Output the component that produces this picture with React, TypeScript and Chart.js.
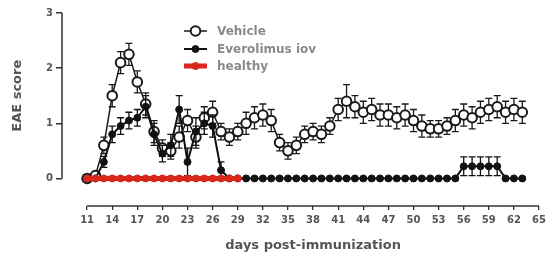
import { useEffect, useRef } from "react";
import { Chart, registerables } from "chart.js";

Chart.register(...registerables);

// Days post-immunization (x categories)
const days = [
  11, 12, 13, 14, 15, 16, 17, 18, 19, 20,
  21, 22, 23, 24, 25, 26, 27, 28, 29, 30,
  31, 32, 33, 34, 35, 36, 37, 38, 39, 40,
  41, 42, 43, 44, 45, 46, 47, 48, 49, 50,
  51, 52, 53, 54, 55, 56, 57, 58, 59, 60,
  61, 62, 63,
];

const vehicle = [
  0, 0.05, 0.6, 1.5, 2.1, 2.25, 1.75, 1.35, 0.85, 0.55,
  0.5, 0.75, 1.05, 0.75, 1.1, 1.2, 0.85, 0.75, 0.85, 1.0,
  1.1, 1.15, 1.05, 0.65, 0.5, 0.6, 0.8, 0.85, 0.8, 0.95,
  1.25, 1.4, 1.3, 1.2, 1.25, 1.15, 1.15, 1.1, 1.15, 1.05,
  0.95, 0.9, 0.9, 0.95, 1.05, 1.15, 1.1, 1.2, 1.25, 1.3,
  1.2, 1.25, 1.2,
];
const vehicleErr = [
  0, 0.05, 0.15, 0.2, 0.2, 0.2, 0.2, 0.2, 0.2, 0.15,
  0.15, 0.2, 0.2, 0.2, 0.2, 0.2, 0.15, 0.15, 0.15, 0.2,
  0.2, 0.2, 0.2, 0.15, 0.15, 0.15, 0.15, 0.15, 0.15, 0.15,
  0.2, 0.3, 0.2, 0.2, 0.2, 0.2, 0.2, 0.2, 0.2, 0.2,
  0.2, 0.15, 0.15, 0.15, 0.2, 0.2, 0.2, 0.2, 0.2, 0.2,
  0.2, 0.2, 0.2,
];

const everolimus = [
  0, 0, 0.3, 0.8, 0.95, 1.05, 1.1, 1.3, 0.8, 0.45,
  0.6, 1.25, 0.3, 0.85, 1.0, 0.95, 0.15, 0, 0, 0,
  0, 0, 0, 0, 0, 0, 0, 0, 0, 0,
  0, 0, 0, 0, 0, 0, 0, 0, 0, 0,
  0, 0, 0, 0, 0, 0.22, 0.22, 0.22, 0.22, 0.22,
  0, 0, 0,
];
const everolimusErr = [
  0, 0, 0.1, 0.15, 0.15, 0.15, 0.15, 0.2, 0.2, 0.15,
  0.2, 0.25, 0.25, 0.25, 0.2, 0.2, 0.15, 0, 0, 0,
  0, 0, 0, 0, 0, 0, 0, 0, 0, 0,
  0, 0, 0, 0, 0, 0, 0, 0, 0, 0,
  0, 0, 0, 0, 0, 0.17, 0.17, 0.17, 0.17, 0.17,
  0, 0, 0,
];

const healthyDays = [11, 12, 13, 14, 15, 16, 17, 18, 19, 20, 21, 22, 23, 24, 25, 26, 27, 28, 29];
const healthy = [0, 0, 0, 0, 0, 0, 0, 0, 0, 0, 0, 0, 0, 0, 0, 0, 0, 0, 0];

const xTicks = [11, 14, 17, 20, 23, 26, 29, 32, 35, 38, 41, 44, 47, 50, 53, 56, 59, 62, 65];
const yTicks = [0, 1, 2, 3];

const seriesLabels = ["Vehicle", "Everolimus iov", "healthy"];
const xTitle = "days post-immunization";
const yTitle = "EAE score";

const FONT = '"DejaVu Sans", sans-serif';
const RED = "#d8271b";

const errorBars = {
  id: "errorBars",
  beforeDatasetDraw(chart: any, args: any) {
    const ds = chart.data.datasets[args.index] as any;
    if (!ds.errors) return;
    const { ctx, scales } = chart;
    const x = scales.x;
    const y = scales.y;
    ctx.save();
    ctx.strokeStyle = ds.borderColor;
    ctx.lineWidth = 1.3;
    ds.data.forEach((p: any, i: number) => {
      const e = ds.errors[i];
      if (!e) return;
      const px = x.getPixelForValue(p.x);
      const top = y.getPixelForValue(p.y + e);
      const bot = y.getPixelForValue(p.y - e);
      ctx.beginPath();
      ctx.moveTo(px, top);
      ctx.lineTo(px, bot);
      ctx.moveTo(px - 3.5, top);
      ctx.lineTo(px + 3.5, top);
      ctx.moveTo(px - 3.5, bot);
      ctx.lineTo(px + 3.5, bot);
      ctx.stroke();
    });
    ctx.restore();
  },
};

const prismAxes = {
  id: "prismAxes",
  afterDraw(chart: any) {
    const { ctx, chartArea, scales } = chart;
    const x = scales.x;
    const y = scales.y;
    const yA = y.getPixelForValue(yTicks[0]);
    const yB = y.getPixelForValue(yTicks[yTicks.length - 1]);
    const xA = x.getPixelForValue(xTicks[0]);
    const xB = x.getPixelForValue(xTicks[xTicks.length - 1]);
    ctx.save();
    ctx.strokeStyle = "#333";
    ctx.lineWidth = 1.5;
    ctx.beginPath();
    ctx.moveTo(chartArea.left, yA);
    ctx.lineTo(chartArea.left, yB);
    ctx.moveTo(xA, chartArea.bottom);
    ctx.lineTo(xB, chartArea.bottom);
    ctx.stroke();

    ctx.fillStyle = "#555";
    ctx.font = `bold 13px ${FONT}`;
    ctx.textAlign = "center";
    ctx.textBaseline = "middle";
    ctx.fillText(xTitle, (xA + xB) / 2, 246);
    ctx.translate(18, (yA + yB) / 2);
    ctx.rotate(-Math.PI / 2);
    ctx.fillText(yTitle, 0, 0);
    ctx.restore();
  },
};

const customLegend = {
  id: "customLegend",
  afterDraw(chart: any) {
    const { ctx } = chart;
    const rows = [31, 49, 66];
    const x0 = 184;
    const x1 = 207;
    ctx.save();
    chart.data.datasets.forEach((ds: any, i: number) => {
      const yy = rows[i];
      ctx.strokeStyle = ds.borderColor;
      ctx.lineWidth = ds.borderWidth;
      ctx.beginPath();
      ctx.moveTo(x0, yy);
      ctx.lineTo(x1, yy);
      ctx.stroke();
      ctx.beginPath();
      ctx.arc((x0 + x1) / 2, yy, ds.pointRadius, 0, Math.PI * 2);
      ctx.fillStyle = ds.pointBackgroundColor;
      ctx.fill();
      ctx.lineWidth = ds.pointBorderWidth;
      ctx.strokeStyle = ds.pointBorderColor;
      ctx.stroke();
      ctx.fillStyle = "#8a8a8a";
      ctx.font = `bold 12px ${FONT}`;
      ctx.textAlign = "left";
      ctx.textBaseline = "middle";
      ctx.fillText(ds.label, 217, yy + 1);
    });
    ctx.restore();
  },
};

export default function App() {
  const ref = useRef<HTMLCanvasElement>(null);
  useEffect(() => {
    document.body.style.margin = "0";
    const canvas = ref.current;
    if (!canvas) return;
    const chart = new Chart(canvas, {
      type: "line",
      data: {
        datasets: [
          {
            label: seriesLabels[0],
            data: days.map((d, i) => ({ x: d, y: vehicle[i] })),
            errors: vehicleErr,
            borderColor: "#1a1a1a",
            borderWidth: 1.5,
            pointRadius: 4.8,
            pointBorderWidth: 2,
            pointBackgroundColor: "#ffffff",
            pointBorderColor: "#1a1a1a",
            order: 2,
          } as any,
          {
            label: seriesLabels[1],
            data: days.map((d, i) => ({ x: d, y: everolimus[i] })),
            errors: everolimusErr,
            borderColor: "#111111",
            borderWidth: 2,
            pointRadius: 3.5,
            pointBorderWidth: 1,
            pointBackgroundColor: "#111111",
            pointBorderColor: "#111111",
            order: 1,
          } as any,
          {
            label: seriesLabels[2],
            data: healthyDays.map((d, i) => ({ x: d, y: healthy[i] })),
            borderColor: RED,
            borderWidth: 5,
            pointRadius: 3.5,
            pointBorderWidth: 1,
            pointBackgroundColor: RED,
            pointBorderColor: RED,
            order: 0,
          } as any,
        ],
      },
      options: {
        responsive: false,
        animation: false,
        devicePixelRatio: 1,
        layout: { padding: { top: 13, right: 7, left: 0, bottom: 0 } },
        plugins: {
          legend: { display: false },
          tooltip: { enabled: false },
        },
        scales: {
          x: {
            type: "linear",
            min: 8,
            max: 65,
            afterBuildTicks: (s: any) => {
              s.ticks = xTicks.map((v) => ({ value: v }));
            },
            afterFit: (s: any) => {
              s.height = 50;
            },
            border: { display: false },
            grid: {
              display: true,
              drawOnChartArea: false,
              drawTicks: true,
              tickLength: 4,
              color: "#333",
              lineWidth: 1.3,
            },
            ticks: {
              autoSkip: false,
              maxRotation: 0,
              padding: 4,
              color: "#555",
              font: { family: FONT, size: 10, weight: "bold" },
            },
          },
          y: {
            type: "linear",
            min: -0.5,
            max: 3,
            afterBuildTicks: (s: any) => {
              s.ticks = yTicks.map((v) => ({ value: v }));
            },
            afterFit: (s: any) => {
              s.width = 62;
            },
            border: { display: false },
            grid: {
              display: true,
              drawOnChartArea: false,
              drawTicks: true,
              tickLength: 6,
              color: "#333",
              lineWidth: 1.5,
            },
            ticks: {
              padding: 3,
              color: "#555",
              font: { family: FONT, size: 10, weight: "bold" },
            },
          },
        },
      },
      plugins: [errorBars, prismAxes, customLegend],
    });
    return () => chart.destroy();
  }, []);
  return (
    <div style={{ width: 550, height: 256 }}>
      <canvas ref={ref} width={550} height={256} style={{ display: "block" }} />
    </div>
  );
}
